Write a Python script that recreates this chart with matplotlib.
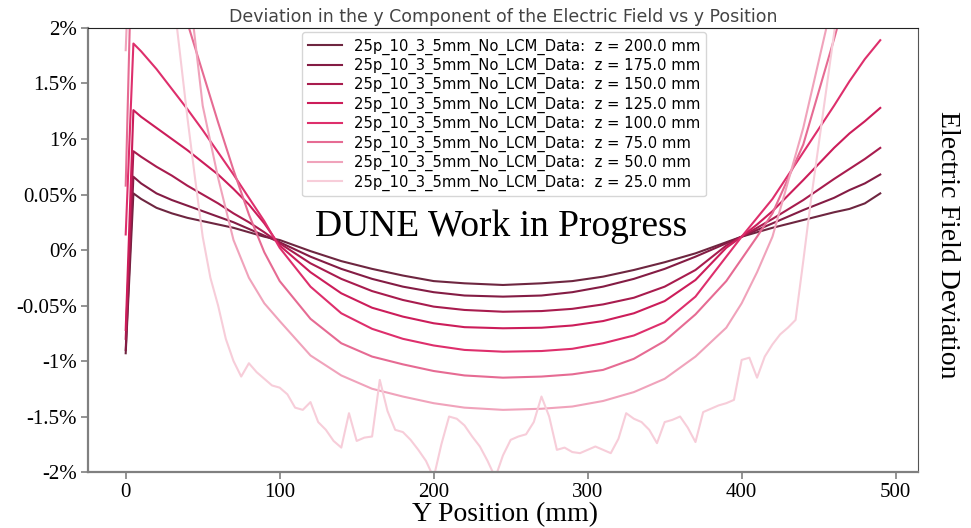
import matplotlib.pyplot as plt
import numpy as np

# y position (mm) of the smooth scans
yPos = [0, 5, 10, 20, 30, 40, 50, 60, 70, 80, 90, 100, 120, 140, 160, 180, 200, 220, 245,
        270, 290, 310, 330, 350, 370, 390, 400, 410, 420, 440, 460, 470, 480, 490]

dev200 = [-0.93, 0.51, 0.46, 0.38, 0.33, 0.29, 0.26, 0.23, 0.20, 0.16, 0.12, 0.09,
          -0.01, -0.10, -0.17, -0.23, -0.28, -0.30, -0.315, -0.30, -0.28, -0.24, -0.18, -0.11, -0.03,
          0.07, 0.12, 0.16, 0.20, 0.27, 0.34, 0.37, 0.42, 0.51]
dev175 = [-0.90, 0.66, 0.60, 0.51, 0.45, 0.40, 0.35, 0.30, 0.25, 0.19, 0.13, 0.07,
          -0.06, -0.17, -0.26, -0.33, -0.38, -0.41, -0.42, -0.41, -0.38, -0.33, -0.26, -0.17, -0.06,
          0.06, 0.12, 0.18, 0.24, 0.36, 0.47, 0.54, 0.60, 0.68]
dev150 = [-0.80, 0.89, 0.84, 0.75, 0.67, 0.58, 0.50, 0.42, 0.33, 0.25, 0.16, 0.06,
          -0.12, -0.26, -0.37, -0.45, -0.51, -0.54, -0.556, -0.55, -0.53, -0.49, -0.43, -0.33, -0.18,
          0.04, 0.12, 0.20, 0.28, 0.45, 0.64, 0.73, 0.82, 0.92]
dev125 = [-0.72, 1.26, 1.20, 1.10, 1.00, 0.90, 0.79, 0.68, 0.55, 0.41, 0.24, 0.04,
          -0.20, -0.39, -0.52, -0.60, -0.66, -0.695, -0.705, -0.70, -0.68, -0.64, -0.57, -0.46, -0.27,
          0.02, 0.12, 0.23, 0.35, 0.63, 0.92, 1.05, 1.16, 1.28]
dev100 = [0.14, 1.86, 1.79, 1.63, 1.45, 1.27, 1.08, 0.88, 0.68, 0.47, 0.26, 0.02,
          -0.33, -0.57, -0.71, -0.80, -0.86, -0.90, -0.916, -0.91, -0.89, -0.84, -0.77, -0.65, -0.42,
          -0.06, 0.12, 0.29, 0.46, 0.88, 1.30, 1.52, 1.72, 1.89]
dev75 = [0.58, 3.3, 3.2, 2.9, 2.5, 2.05, 1.6, 1.15, 0.72, 0.32, -0.02, -0.28,
         -0.62, -0.84, -0.96, -1.03, -1.09, -1.13, -1.15, -1.14, -1.12, -1.08, -0.98, -0.82, -0.58,
         -0.28, -0.08, 0.12, 0.33, 0.95, 1.9, 2.4, 2.9, 3.4]
dev50 = [1.80, 3.6, 3.7, 3.6, 3.2, 2.5, 1.3, 0.65, 0.09, -0.25, -0.48, -0.64,
         -0.95, -1.13, -1.25, -1.32, -1.38, -1.42, -1.44, -1.43, -1.41, -1.36, -1.28, -1.16, -0.96,
         -0.70, -0.48, -0.20, 0.12, 1.10, 2.30, 2.9, 3.4, 3.8]

# the z = 25 mm scan is noisy, finer steps
yPos25 = list(range(25, 470, 5))
dev25 = [3.0, 2.4, 1.8, 1.2, 0.65, 0.12, -0.25, -0.5, -0.8, -1.0,
         -1.14, -1.02, -1.1, -1.16, -1.22, -1.24, -1.3, -1.42, -1.44, -1.37,
         -1.55, -1.62, -1.72, -1.78, -1.47, -1.72, -1.69, -1.68, -1.17, -1.45,
         -1.62, -1.64, -1.71, -1.8, -1.9, -2.05, -1.75, -1.5, -1.52, -1.58,
         -1.68, -1.77, -1.9, -2.05, -1.85, -1.71, -1.68, -1.66, -1.55, -1.32,
         -1.5, -1.8, -1.78, -1.82, -1.83, -1.8, -1.77, -1.8, -1.83, -1.7,
         -1.47, -1.52, -1.55, -1.62, -1.74, -1.55, -1.53, -1.5, -1.6, -1.73,
         -1.46, -1.43, -1.4, -1.38, -1.35, -0.99, -0.97, -1.15, -0.96, -0.85,
         -0.76, -0.7, -0.63, -0.1, 0.45, 0.95, 1.45, 1.95, 2.5]

zValues = [200.0, 175.0, 150.0, 125.0, 100.0, 75.0, 50.0, 25.0]
lineColors = ['#6e2640', '#841c44', '#a81c4e', '#cc1d5a', '#de2f6c', '#e66b93', '#f0a3bb', '#f7cdd9']

yTicks = [-2, -1.5, -1, -0.5, 0, 0.5, 1, 1.5, 2]
yTickLabels = ['-2%', '-1.5%', '-1%', '-0.05%', '0%', '0.05%', '1%', '1.5%', '2%']
xTicks = [0, 100, 200, 300, 400, 500]

series = [(yPos, dev200), (yPos, dev175), (yPos, dev150), (yPos, dev125),
          (yPos, dev100), (yPos, dev75), (yPos, dev50), (yPos25, dev25)]

serif = 'Liberation Serif'

fig = plt.figure(figsize=(9.71, 5.28), dpi=100)
ax = fig.add_axes([0.0906, 0.106, 0.8548, 0.841])

for (xs, ys), z, c in zip(series, zValues, lineColors):
    ax.plot(xs, ys, color=c, lw=1.5, label='25p_10_3_5mm_No_LCM_Data:  z = %.1f mm' % z)

ax.set_xlim(-24.5, 514.5)
ax.set_ylim(-2, 2)
ax.set_yticks(yTicks)
ax.set_yticklabels(yTickLabels, fontfamily=serif, fontsize=15)
ax.set_xticks(xTicks)
ax.set_xticklabels([str(t) for t in xTicks], fontfamily=serif, fontsize=15)
ax.tick_params(direction='out', length=5, width=1.2, color='#808080', pad=3)

for side in ['left', 'bottom']:
    ax.spines[side].set_color('#808080')
    ax.spines[side].set_linewidth(1.6)
ax.spines['top'].set_color('#222222')
ax.spines['right'].set_color('#555555')

ax.set_title('Deviation in the y Component of the Electric Field vs y Position',
             fontsize=12.5, color='#444444', pad=4)

leg = ax.legend(loc='upper left', bbox_to_anchor=(0.258, 0.99), borderaxespad=0,
                fontsize=10.6, labelspacing=0.22, handlelength=2.3, frameon=True)
leg.get_frame().set_edgecolor('#cccccc')

ax.text(0.4976, 0.552, 'DUNE Work in Progress', transform=ax.transAxes,
        ha='center', va='center', fontfamily=serif, fontsize=27)

fig.text(0.52, 0.026, 'Y Position (mm)', ha='center', va='center', fontfamily=serif, fontsize=20)
fig.text(0.976, 0.536, 'Electric Field Deviation', ha='center', va='center', rotation=270,
         fontfamily=serif, fontsize=20)

fig.savefig('out.png')
